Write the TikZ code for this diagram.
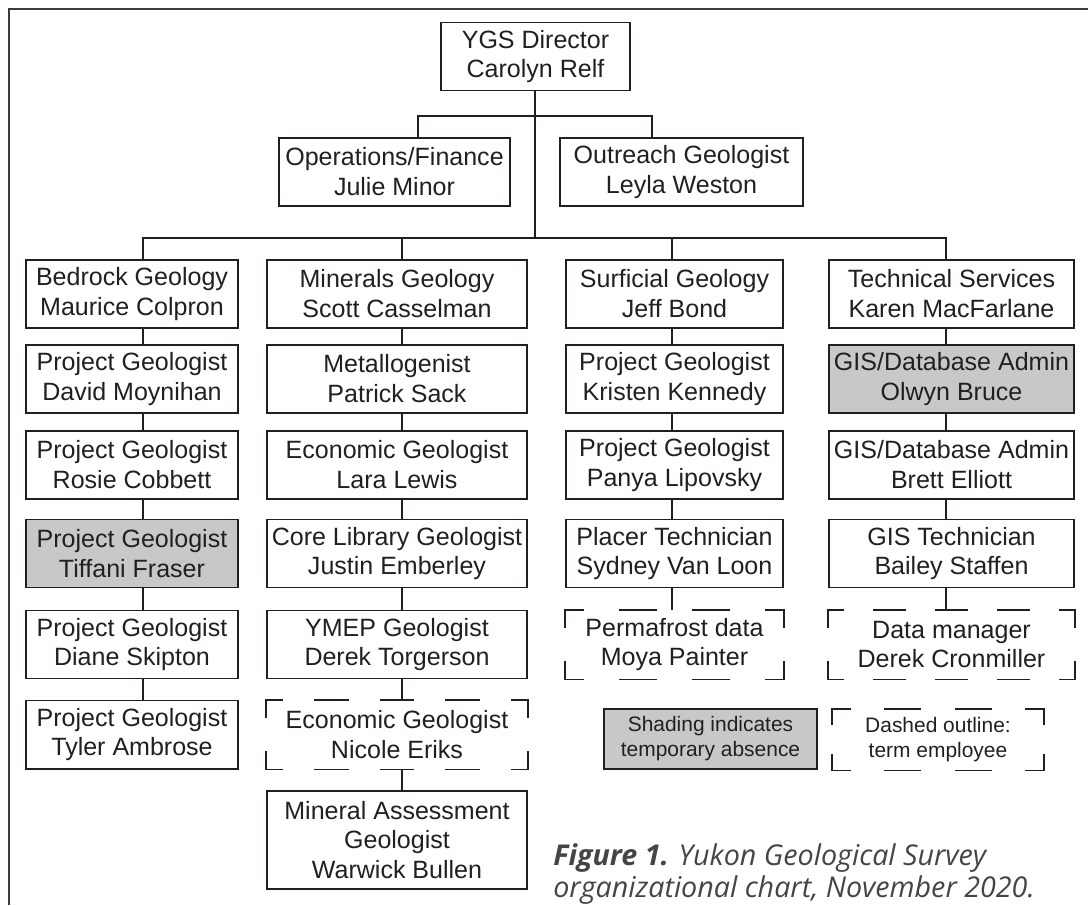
\documentclass[tikz,border=0pt]{standalone}
\usepackage{fontspec}
\setmainfont{Liberation Sans}
\newfontfamily\capfont{Open Sans}
\usetikzlibrary{calc}
\definecolor{inkLine}{HTML}{231F20}
\definecolor{frameLine}{HTML}{3C3C3C}
\definecolor{absentFill}{HTML}{C8C8C8}
\definecolor{capText}{HTML}{454545}

% one side of a term-employee outline, dashes fitted to the corners
\newcommand{\termside}[2]{%
  \draw[rule] let \p1=($(#2)-(#1)$), \n1={veclen(\x1,\y1)},
    \n2={\n1/(2*max(1,round(\n1/46.95)))} in
    [dash pattern=on \n2 off \n2, dash phase=0.5*\n2] (#1) -- (#2);}
\newcommand{\termbox}[1]{%
  \termside{#1.north west}{#1.north east}
  \termside{#1.north east}{#1.south east}
  \termside{#1.south east}{#1.south west}
  \termside{#1.south west}{#1.north west}}

\begin{document}
\begin{tikzpicture}[
  font=\fontsize{17.8}{21.3}\selectfont,
  every node/.style={text=inkLine},
  box/.style={draw=inkLine, line width=1.4pt, align=center, inner sep=0pt,
              minimum height=1.7cm, fill=white},
  shaded/.style={box, fill=absentFill},
  term/.style={box, draw=none},
  bedcol/.style={minimum width=5.3cm},
  mincol/.style={minimum width=6.5cm},
  surfcol/.style={minimum width=5.425cm},
  techcol/.style={minimum width=6.125cm},
  keytxt/.style={font=\fontsize{14.9}{17.8}\selectfont, minimum height=1.5cm},
  link/.style={draw=inkLine, line width=1.4pt},
  rule/.style={draw=inkLine, line width=1.4pt, line cap=rect},
  frame/.style={draw=frameLine, line width=0.9pt},
  caption/.style={font=\capfont\itshape\fontsize{20.4}{22.8}\selectfont,
                  text=capText, align=left, inner sep=0pt},
]
\useasboundingbox (0,0) rectangle (27.2,-22.625);
\draw[frame] (0.225,-22.625) -- (0.225,-0.225) -- (27.2,-0.225);

% ---------------- TOP ----------------
\node[box, minimum width=4.725cm] (DIR) at (13.3875,-1.4125) {YGS Director\\Carolyn Relf};
\node[box, minimum width=5.775cm] (OPS) at (9.8625,-4.3) {Operations/Finance\\Julie Minor};
\node[box, minimum width=6.075cm] (OUTR) at (17.0375,-4.3) {Outreach Geologist\\Leyla Weston};

% ---------------- BEDROCK ----------------
\node[box, bedcol] (BED) at (3.3,-7.35) {Bedrock Geology\\Maurice Colpron};
\node[box, bedcol] (BED1) at (3.3,-9.475) {Project Geologist\\David Moynihan};
\node[box, bedcol] (BED2) at (3.3,-11.625) {Project Geologist\\Rosie Cobbett};
\node[shaded, bedcol] (BED3) at (3.3,-13.8375) {Project Geologist\\Tiffani Fraser};
\node[box, bedcol] (BED4) at (3.3,-16.1125) {Project Geologist\\Diane Skipton};
\node[box, bedcol] (BED5) at (3.3,-18.3625) {Project Geologist\\Tyler Ambrose};

% ---------------- MINERALS ----------------
\node[box, mincol] (MIN) at (9.925,-7.35) {Minerals Geology\\Scott Casselman};
\node[box, mincol] (MIN1) at (9.925,-9.475) {Metallogenist\\Patrick Sack};
\node[box, mincol] (MIN2) at (9.925,-11.625) {Economic Geologist\\Lara Lewis};
\node[box, mincol] (MIN3) at (9.925,-13.8375) {Core Library Geologist\\Justin Emberley};
\node[box, mincol] (MIN4) at (9.925,-16.1125) {YMEP Geologist\\Derek Torgerson};
\node[term, mincol] (MIN5) at (9.925,-18.3625) {Economic Geologist\\Nicole Eriks};
\node[box, mincol, minimum height=2.45cm] (MIN6) at (9.925,-21.0)
  {Mineral Assessment\\Geologist\\Warwick Bullen};

% ---------------- SURFICIAL ----------------
\node[box, surfcol] (SURF) at (16.8625,-7.35) {Surficial Geology\\Jeff Bond};
\node[box, surfcol] (SURF1) at (16.8625,-9.475) {Project Geologist\\Kristen Kennedy};
\node[box, surfcol] (SURF2) at (16.8625,-11.625) {Project Geologist\\Panya Lipovsky};
\node[box, surfcol] (SURF3) at (16.8625,-13.8375) {Placer Technician\\Sydney Van Loon};
\node[term, surfcol] (SURF4) at (16.8625,-16.1125) {Permafrost data\\Moya Painter};

% ---------------- TECHNICAL ----------------
\node[box, techcol] (TECH) at (23.7875,-7.35) {Technical Services\\Karen MacFarlane};
\node[shaded, techcol] (TECH1) at (23.7875,-9.475) {GIS/Database Admin\\Olwyn Bruce};
\node[box, techcol] (TECH2) at (23.7875,-11.625) {GIS/Database Admin\\Brett Elliott};
\node[box, techcol] (TECH3) at (23.7875,-13.8375) {GIS Technician\\Bailey Staffen};
\node[term, techcol] (TECH4) at (23.7875,-16.1125) {Data manager\\Derek Cronmiller};

% ---------------- KEY + CAPTION ----------------
\node[shaded, keytxt, minimum width=5.325cm] (KEYSHADE) at (17.7625,-18.475)
  {Shading indicates\\temporary absence};
\node[term, keytxt, minimum width=5.25cm] (KEYTERM) at (23.45,-18.4875)
  {Dashed outline:\\term employee};
\node[caption, anchor=west] (CAP) at (13.825,-21.85)
  {\textbf{Figure 1.} Yukon Geological Survey\\organizational chart, November 2020.};

% dashed outlines
\termbox{MIN5}
\termbox{SURF4}
\termbox{TECH4}
\termbox{KEYTERM}

% ---------------- EDGES ----------------
\coordinate (HUB2) at (13.375,-2.9);
\coordinate (HUB3) at (13.375,-5.95);
\coordinate (OPSDROP) at (10.45,-2.9);
\coordinate (OUTDROP) at (16.3,-2.9);
\coordinate (COLA) at (3.575,-5.95);
\coordinate (COLB) at (10.05,-5.95);
\coordinate (COLC) at (16.8,-5.95);
\coordinate (COLD) at (23.65,-5.95);

\draw[link] (DIR.south -| HUB3) -- (HUB3);
\draw[link] (OPS.north -| OPSDROP) -- (OPSDROP) -- (OUTDROP) -- (OUTR.north -| OUTDROP);
\draw[link] (BED.north -| COLA) -- (COLA) -- (COLD) -- (TECH.north -| COLD);
\draw[link] (COLB) -- (MIN.north -| COLB);
\draw[link] (COLC) -- (SURF.north -| COLC);

\draw[link] (BED.south -| COLA) -- (BED1.north -| COLA);
\draw[link] (BED1.south -| COLA) -- (BED2.north -| COLA);
\draw[link] (BED2.south -| COLA) -- (BED3.north -| COLA);
\draw[link] (BED3.south -| COLA) -- (BED4.north -| COLA);
\draw[link] (BED4.south -| COLA) -- (BED5.north -| COLA);

\draw[link] (MIN.south -| COLB) -- (MIN1.north -| COLB);
\draw[link] (MIN1.south -| COLB) -- (MIN2.north -| COLB);
\draw[link] (MIN2.south -| COLB) -- (MIN3.north -| COLB);
\draw[link] (MIN3.south -| COLB) -- (MIN4.north -| COLB);
\draw[link] (MIN4.south -| COLB) -- (MIN5.north -| COLB);
\draw[link] (MIN5.south -| COLB) -- (MIN6.north -| COLB);

\draw[link] (SURF.south -| COLC) -- (SURF1.north -| COLC);
\draw[link] (SURF1.south -| COLC) -- (SURF2.north -| COLC);
\draw[link] (SURF2.south -| COLC) -- (SURF3.north -| COLC);
\draw[link] (SURF3.south -| COLC) -- (SURF4.north -| COLC);

\draw[link] (TECH.south -| COLD) -- (TECH1.north -| COLD);
\draw[link] (TECH1.south -| COLD) -- (TECH2.north -| COLD);
\draw[link] (TECH2.south -| COLD) -- (TECH3.north -| COLD);
\draw[link] (TECH3.south -| COLD) -- (TECH4.north -| COLD);
\end{tikzpicture}
\end{document}
